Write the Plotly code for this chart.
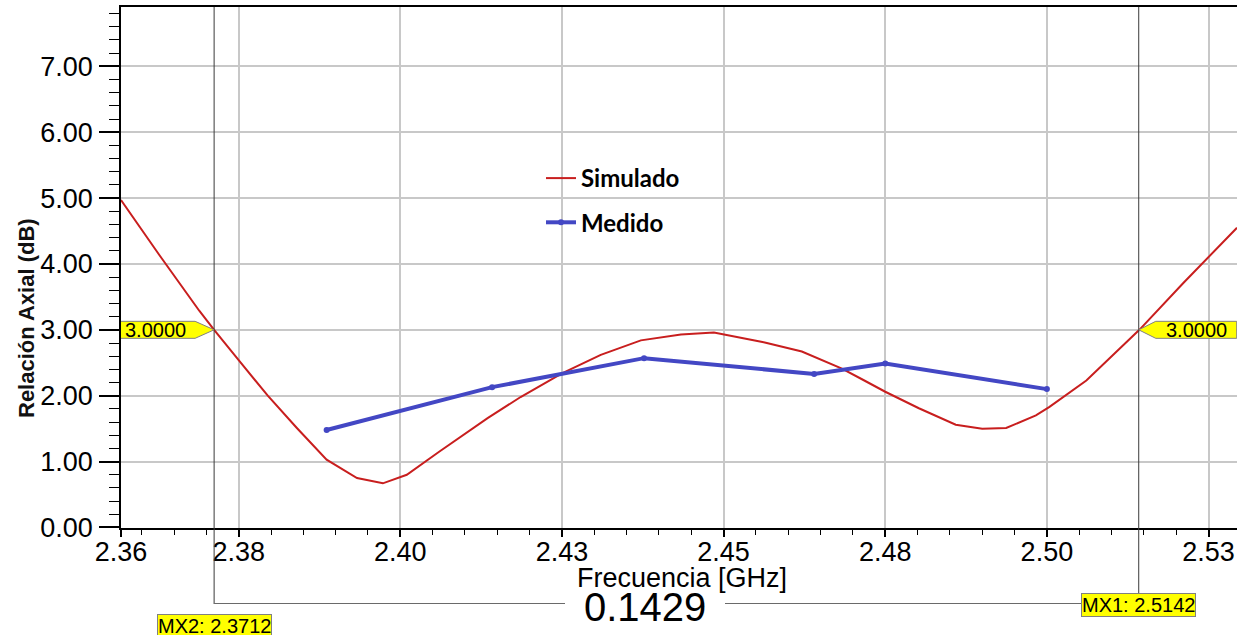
import plotly.graph_objects as go

# ---------------- data ----------------
sim_freq = [2.3568, 2.3627, 2.3689, 2.3712, 2.3750, 2.3795, 2.3840, 2.3886, 2.3933,
            2.3973, 2.4010, 2.4060, 2.4135, 2.4186, 2.4250, 2.4310, 2.4372, 2.4434,
            2.4485, 2.4562, 2.4621, 2.4683, 2.4714, 2.4750, 2.4802, 2.4859, 2.4900,
            2.4937, 2.4983, 2.5004, 2.5061, 2.5143, 2.5211, 2.5294]
sim_ar = [4.97, 4.14, 3.29, 3.00, 2.54, 2.00, 1.51, 1.03, 0.75,
          0.67, 0.80, 1.15, 1.66, 1.98, 2.34, 2.62, 2.84, 2.93,
          2.96, 2.81, 2.67, 2.41, 2.25, 2.06, 1.81, 1.56, 1.50,
          1.51, 1.70, 1.83, 2.23, 3.00, 3.71, 4.55]

meas_freq = [2.3886, 2.4142, 2.4377, 2.4640, 2.4750, 2.5000]
meas_ar = [1.48, 2.13, 2.57, 2.33, 2.49, 2.10]

x_tickvals = [2.3568, 2.375, 2.400, 2.425, 2.450, 2.475, 2.500, 2.525]
x_ticktext = ["2.36", "2.38", "2.40", "2.43", "2.45", "2.48", "2.50", "2.53"]
y_tickvals = [0, 1, 2, 3, 4, 5, 6, 7]

mx1 = 2.5142
mx2 = 2.3712
mx_level = 3.0
delta_text = "0.1429"

X_RANGE = [2.3568, 2.5294]
Y_RANGE = [-0.008, 7.9]

# ---------------- layout geometry ----------------
W, H = 1237, 635
ML, MR, MT, MB = 121, 0, 7, 107
PW = W - ML - MR
PH = H - MT - MB


def px_x(px):
    return (px - ML) / PW


def px_y(py):
    return (H - MB - py) / PH


def px_to_data_x(px):
    return X_RANGE[0] + (px - ML) / PW * (X_RANGE[1] - X_RANGE[0])


TICK_FONT = dict(family="Liberation Sans, Arial, sans-serif", size=27, color="black")
LBL_FONT = dict(family="Liberation Sans, Arial, sans-serif", size=20, color="black")
GRID = "#C8C8C8"

fig = go.Figure()
fig.add_trace(go.Scatter(
    x=sim_freq, y=sim_ar, mode="lines", name="Simulado",
    line=dict(color="#C81E1E", width=2), legendgroup="a"))
fig.add_trace(go.Scatter(
    x=meas_freq, y=meas_ar, mode="lines+markers", name="Medido",
    line=dict(color="#4347C4", width=4), marker=dict(size=6, color="#4347C4"),
    legendgroup="b"))

shapes = []
# marker lines
shapes.append(dict(type="line", xref="x", yref="paper", x0=mx2, x1=mx2,
                   y0=px_y(604), y1=1, line=dict(color="#3A3A3A", width=1), layer="above"))
shapes.append(dict(type="line", xref="x", yref="paper", x0=mx1, x1=mx1,
                   y0=px_y(593), y1=1, line=dict(color="#3A3A3A", width=1), layer="above"))
# delta measure line (with a gap around the delta value)
gap_l = px_to_data_x(565)
gap_r = px_to_data_x(725)
shapes.append(dict(type="line", xref="x", yref="paper", x0=mx2, x1=gap_l,
                   y0=px_y(603.5), y1=px_y(603.5), line=dict(color="#6A6A6A", width=1)))
shapes.append(dict(type="line", xref="x", yref="paper", x0=gap_r, x1=mx1,
                   y0=px_y(603.5), y1=px_y(603.5), line=dict(color="#6A6A6A", width=1)))
# flags at 3.0000
shapes.append(dict(type="path", xref="x", yref="y", xsizemode="pixel", ysizemode="pixel",
                   xanchor=mx2, yanchor=mx_level,
                   path="M0,0 L-19,8.5 L-98,8.5 L-98,-8.5 L-19,-8.5 Z",
                   fillcolor="#FFFF00", line=dict(color="#808080", width=1), layer="above"))
shapes.append(dict(type="path", xref="x", yref="y", xsizemode="pixel", ysizemode="pixel",
                   xanchor=mx1, yanchor=mx_level,
                   path="M0,0 L17,8.5 L98,8.5 L98,-8.5 L17,-8.5 Z",
                   fillcolor="#FFFF00", line=dict(color="#808080", width=1), layer="above"))

annotations = [
    dict(text="Relación Axial (dB)", xref="paper", yref="paper", x=px_x(26), y=px_y(318),
         xanchor="center", yanchor="middle", textangle=-90, showarrow=False,
         font=dict(family="Liberation Sans, Arial, sans-serif", size=22, color="#111111",
                   weight="bold")),
    dict(text="Frecuencia [GHz]", xref="paper", yref="paper", x=px_x(681.5), y=px_y(578),
         xanchor="center", yanchor="middle", showarrow=False, font=TICK_FONT),
    dict(text=delta_text, xref="paper", yref="paper", x=px_x(645), y=px_y(607),
         xanchor="center", yanchor="middle", showarrow=False,
         font=dict(family="Liberation Sans, Arial, sans-serif", size=40, color="black")),
    dict(text="MX1: 2.5142", xref="x", yref="paper", x=mx1, y=px_y(593),
         xanchor="center", yanchor="top", showarrow=False, bgcolor="#FFFF00",
         bordercolor="#808080", borderwidth=1, borderpad=0, font=LBL_FONT),
    dict(text="MX2: 2.3712", xref="x", yref="paper", x=mx2, y=px_y(614),
         xanchor="center", yanchor="top", showarrow=False, bgcolor="#FFFF00",
         bordercolor="#808080", borderwidth=1, borderpad=0, font=LBL_FONT),
    dict(text="3.0000", xref="x", yref="y", x=mx2, y=mx_level, xshift=-59,
         xanchor="center", yanchor="middle", showarrow=False, font=LBL_FONT),
    dict(text="3.0000", xref="x", yref="y", x=mx1, y=mx_level, xshift=58,
         xanchor="center", yanchor="middle", showarrow=False, font=LBL_FONT),
]

fig.update_layout(
    width=W, height=H,
    margin=dict(l=ML, r=MR, t=MT, b=MB, pad=0, autoexpand=False),
    paper_bgcolor="white", plot_bgcolor="white",
    shapes=shapes, annotations=annotations,
    showlegend=True,
    legend=dict(x=px_x(541), y=px_y(156), xanchor="left", yanchor="top",
                bgcolor="rgba(0,0,0,0)", borderwidth=0,
                font=dict(family="Lato, sans-serif", size=24, color="black", weight="bold"),
                tracegroupgap=10, traceorder="grouped"),
    xaxis=dict(range=X_RANGE, tickmode="array", tickvals=x_tickvals, ticktext=x_ticktext,
               automargin=False,
               showgrid=True, gridcolor=GRID, gridwidth=1.5, zeroline=False,
               showline=True, linecolor="black", linewidth=2, mirror=True,
               ticks="outside", ticklen=7, tickwidth=1.5, tickcolor="black",
               tickfont=TICK_FONT, ticklabelstandoff=-8,
               minor=dict(tickmode="linear", tick0=2.375, dtick=0.005, ticks="outside",
                          ticklen=5, tickwidth=1, tickcolor="black", showgrid=False)),
    yaxis=dict(range=Y_RANGE, tickmode="array", tickvals=y_tickvals, tickformat=".2f",
               automargin=False,
               showgrid=True, gridcolor=GRID, gridwidth=1.5, zeroline=False,
               showline=True, linecolor="black", linewidth=1.5, mirror=False,
               ticks="outside", ticklen=20, tickwidth=1.5, tickcolor="black",
               tickfont=TICK_FONT, ticklabelstandoff=1,
               minor=dict(tickmode="linear", tick0=0, dtick=0.2, ticks="outside",
                          ticklen=10, tickwidth=1, tickcolor="black", showgrid=False)),
)

fig.write_html(
    "out.html",
    config={"displayModeBar": False},
    post_script="document.body.style.margin='0px';document.body.style.overflow='hidden';",
)
